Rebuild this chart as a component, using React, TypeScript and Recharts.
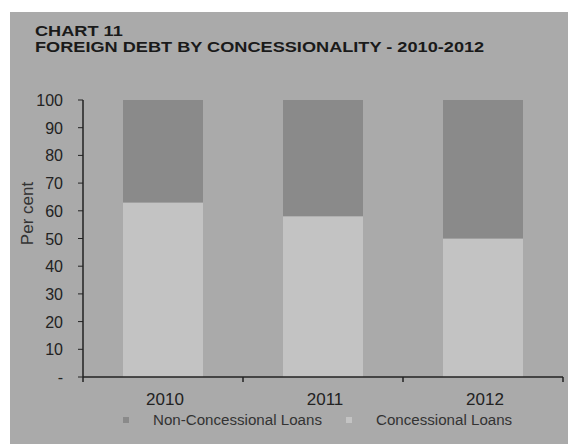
import { BarChart, Bar, XAxis, YAxis } from "recharts";

const years = ["2010", "2011", "2012"];
const concessional = [63, 58, 50];
const nonConcessional = [37, 42, 50];
const yTicks = [0, 10, 20, 30, 40, 50, 60, 70, 80, 90, 100];

const DARK = "#8a8a8a";
const LIGHT = "#c3c3c3";
const PANEL = "#aaaaaa";
const FONT = "'Liberation Sans', Arial, sans-serif";

const data = years.map((year, i) => ({
  year,
  concessional: concessional[i],
  nonConcessional: nonConcessional[i],
}));

// category label plus tick marks at the category boundaries
const XTick = (props: any) => {
  const { x, y, payload, index, width } = props;
  const band = width / years.length;
  return (
    <g>
      <line x1={x + band / 2} y1={y - 8} x2={x + band / 2} y2={y - 3} stroke="#222" strokeWidth={1.5} />
      {index === 0 && (
        <line x1={x - band / 2} y1={y - 8} x2={x - band / 2} y2={y - 3} stroke="#222" strokeWidth={1.5} />
      )}
      <text x={x + 2} y={y + 20} textAnchor="middle" fontSize={17} fill="#222" fontFamily={FONT}>
        {payload.value}
      </text>
    </g>
  );
};

const YTick = (props: any) => {
  const { x, y, payload } = props;
  return (
    <text x={x} y={y + 6} textAnchor="end" fontSize={16} fill="#222" fontFamily={FONT}>
      {payload.value === 0 ? "-" : payload.value}
    </text>
  );
};

// rotated axis title, sits a bit above the middle of the axis like the original
const YLabel = (props: any) => {
  const { viewBox } = props;
  const cx = viewBox.x + 4;
  const cy = viewBox.y + viewBox.height / 2 - 25;
  return (
    <text
      x={cx}
      y={cy}
      transform={`rotate(-90, ${cx}, ${cy})`}
      textAnchor="middle"
      dominantBaseline="central"
      fontSize={17}
      fill="#333"
      fontFamily={FONT}
    >
      Per cent
    </text>
  );
};

const legendItems = [
  { label: "Non-Concessional Loans", color: DARK, left: 123 },
  { label: "Concessional Loans", color: LIGHT, left: 346 },
];

export default function App() {
  return (
    <div style={{ position: "absolute", left: 0, top: 0, width: 568, height: 444, background: "#fff", overflow: "hidden" }}>
      <div style={{ position: "absolute", left: 10, top: 12, width: 558, height: 432, background: PANEL }} />
      <div
        style={{
          position: "absolute",
          left: 35,
          top: 23,
          fontFamily: FONT,
          fontWeight: "bold",
          fontSize: 15,
          lineHeight: "16px",
          color: "#1a1a1a",
          transform: "scaleX(1.21)",
          transformOrigin: "left top",
          whiteSpace: "nowrap",
        }}
      >
        CHART 11
        <br />
        FOREIGN DEBT BY CONCESSIONALITY - 2010-2012
      </div>
      <div style={{ position: "absolute", left: 0, top: 0 }}>
        <BarChart
          width={568}
          height={444}
          data={data}
          margin={{ top: 100, right: 5, left: 23, bottom: 29 }}
          barCategoryGap="25%"
        >
          <XAxis
            dataKey="year"
            axisLine={{ stroke: "#222", strokeWidth: 1.5 }}
            tickLine={false}
            tick={<XTick />}
            height={38}
            interval={0}
          />
          <YAxis
            domain={[0, 100]}
            ticks={yTicks}
            width={60}
            axisLine={{ stroke: "#222", strokeWidth: 1.5 }}
            tickLine={{ stroke: "#222" }}
            tickSize={5}
            tickMargin={15}
            tick={<YTick />}
            interval={0}
            label={<YLabel />}
          />
          <Bar dataKey="concessional" stackId="a" fill={LIGHT} isAnimationActive={false} />
          <Bar dataKey="nonConcessional" stackId="a" fill={DARK} isAnimationActive={false} />
        </BarChart>
      </div>
      {legendItems.map((item) => (
        <div
          key={item.label}
          style={{
            position: "absolute",
            left: item.left,
            top: 412,
            display: "flex",
            alignItems: "center",
            fontFamily: FONT,
            fontSize: 14,
            color: "#333",
            whiteSpace: "nowrap",
          }}
        >
          <span style={{ width: 6, height: 6, background: item.color, marginRight: 24, display: "inline-block" }} />
          <span style={{ display: "inline-block", transform: "scaleX(1.08)", transformOrigin: "left center" }}>{item.label}</span>
        </div>
      ))}
    </div>
  );
}
